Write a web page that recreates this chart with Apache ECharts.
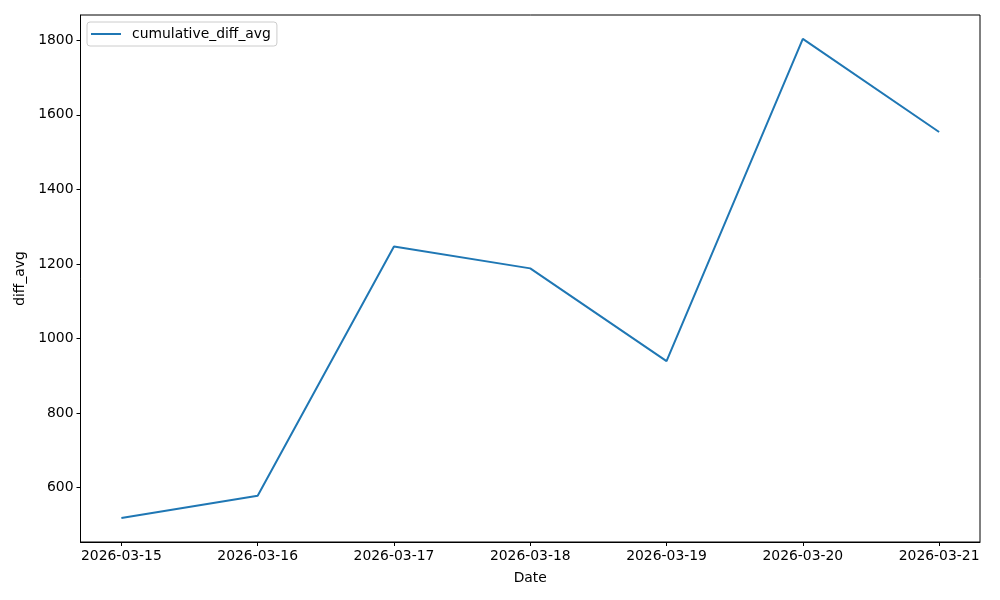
<!DOCTYPE html>
<html>
<head>
<meta charset="utf-8">
<script src="https://cdn.jsdelivr.net/npm/echarts@6/dist/echarts.min.js"></script>
<style>
	html, body { margin: 0; padding: 0; background: #fff; }
	#chart { width: 1000px; height: 600px; }
</style>
</head>
<body>
<div id="chart"></div>
<script>
	var dates = ['2026-03-15', '2026-03-16', '2026-03-17', '2026-03-18', '2026-03-19', '2026-03-20', '2026-03-21'];
	var cumulativeDiffAvg = [518, 578, 1247, 1188, 939, 1804, 1554];
	var yTicks = [600, 800, 1000, 1200, 1400, 1600, 1800];

	var font = 'DejaVu Sans';
	var points = dates.map(function (d, i) { return [i, cumulativeDiffAvg[i]]; });
	var xTicks = dates.map(function (d, i) { return i; });

	var myChart = echarts.init(document.getElementById('chart'));
	myChart.setOption({
		animation: false,
		textStyle: { fontFamily: font },
		grid: {
			left: 80.5, right: 20, top: 15, bottom: 58,
			show: true, borderColor: '#000', borderWidth: 1,
			containLabel: false
		},
		legend: {
			left: 87, top: 22,
			padding: [5, 6, 5, 4],
			itemWidth: 30, itemHeight: 2, itemGap: 10,
			borderColor: '#cccccc', borderWidth: 1, borderRadius: 3,
			backgroundColor: 'rgba(255,255,255,0.8)',
			textStyle: { fontFamily: font, fontSize: 13.9, color: '#000', padding: [0, 0, 0, 6] },
			data: [{ name: 'cumulative_diff_avg', icon: 'rect' }]
		},
		xAxis: {
			type: 'value',
			min: -0.3, max: 6.3,
			name: 'Date', nameLocation: 'middle', nameGap: 29,
			nameTextStyle: { fontFamily: font, fontSize: 13.9, color: '#000' },
			axisLine: { show: true, onZero: false, lineStyle: { color: '#000', width: 1 } },
			axisTick: { show: true, length: 4, lineStyle: { color: '#000' }, customValues: xTicks },
			axisLabel: {
				color: '#000', fontSize: 13.9, fontFamily: font, margin: 7,
				customValues: xTicks,
				formatter: function (v) { return dates[Math.round(v)]; }
			},
			splitLine: { show: false }
		},
		yAxis: {
			type: 'value',
			min: 453.7, max: 1868,
			name: 'diff_avg', nameLocation: 'middle', nameGap: 48,
			nameTextStyle: { fontFamily: font, fontSize: 13.9, color: '#000' },
			axisLine: { show: true, onZero: false, lineStyle: { color: '#000', width: 1 } },
			axisTick: { show: true, length: 4, lineStyle: { color: '#000' }, customValues: yTicks },
			axisLabel: {
				color: '#000', fontSize: 13.9, fontFamily: font, margin: 7,
				customValues: yTicks,
				formatter: function (v) { return String(v); }
			},
			splitLine: { show: false }
		},
		series: [{
			name: 'cumulative_diff_avg',
			type: 'line',
			symbol: 'none',
			color: '#1f77b4',
			lineStyle: { width: 2, color: '#1f77b4' },
			data: points
		}]
	});
</script>
</body>
</html>
